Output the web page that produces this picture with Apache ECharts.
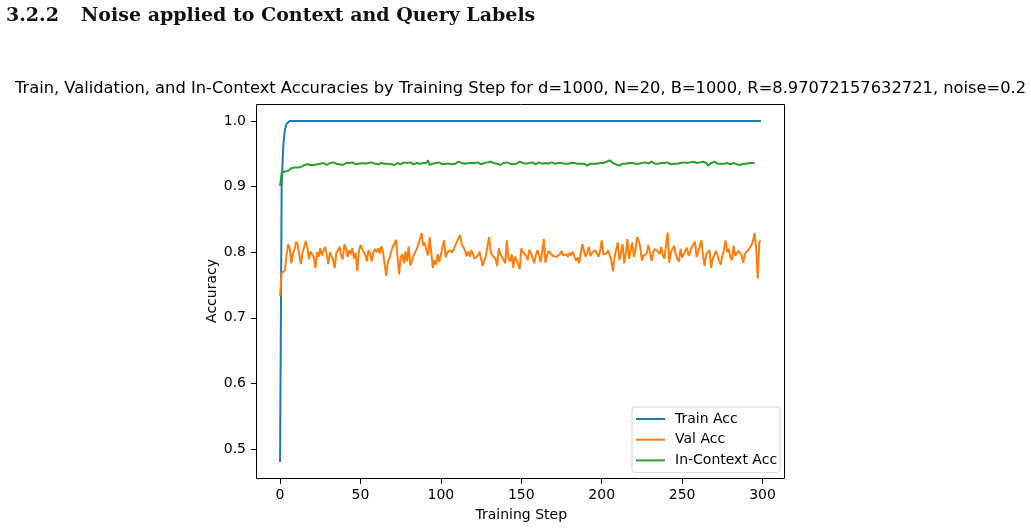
<!DOCTYPE html>
<html>
<head>
<meta charset="utf-8">
<script src="https://cdn.jsdelivr.net/npm/echarts@6/dist/echarts.min.js"></script>
<style>
  html, body { margin: 0; padding: 0; background: #fff; }
  #chart { width: 1031px; height: 529px; }
</style>
</head>
<body>
<div id="chart"></div>
<script>
// values, one per training step (0..299)
var trainAcc = [
  0.48, 0.90, 0.963, 0.986, 0.996, 0.999, 1, 1, 1, 1, 1, 1, 1, 1, 1, 1, 1, 1, 1, 1,
  1, 1, 1, 1, 1, 1, 1, 1, 1, 1, 1, 1, 1, 1, 1, 1, 1, 1, 1, 1,
  1, 1, 1, 1, 1, 1, 1, 1, 1, 1, 1, 1, 1, 1, 1, 1, 1, 1, 1, 1,
  1, 1, 1, 1, 1, 1, 1, 1, 1, 1, 1, 1, 1, 1, 1, 1, 1, 1, 1, 1,
  1, 1, 1, 1, 1, 1, 1, 1, 1, 1, 1, 1, 1, 1, 1, 1, 1, 1, 1, 1,
  1, 1, 1, 1, 1, 1, 1, 1, 1, 1, 1, 1, 1, 1, 1, 1, 1, 1, 1, 1,
  1, 1, 1, 1, 1, 1, 1, 1, 1, 1, 1, 1, 1, 1, 1, 1, 1, 1, 1, 1,
  1, 1, 1, 1, 1, 1, 1, 1, 1, 1, 1, 1, 1, 1, 1, 1, 1, 1, 1, 1,
  1, 1, 1, 1, 1, 1, 1, 1, 1, 1, 1, 1, 1, 1, 1, 1, 1, 1, 1, 1,
  1, 1, 1, 1, 1, 1, 1, 1, 1, 1, 1, 1, 1, 1, 1, 1, 1, 1, 1, 1,
  1, 1, 1, 1, 1, 1, 1, 1, 1, 1, 1, 1, 1, 1, 1, 1, 1, 1, 1, 1,
  1, 1, 1, 1, 1, 1, 1, 1, 1, 1, 1, 1, 1, 1, 1, 1, 1, 1, 1, 1,
  1, 1, 1, 1, 1, 1, 1, 1, 1, 1, 1, 1, 1, 1, 1, 1, 1, 1, 1, 1,
  1, 1, 1, 1, 1, 1, 1, 1, 1, 1, 1, 1, 1, 1, 1, 1, 1, 1, 1, 1,
  1, 1, 1, 1, 1, 1, 1, 1, 1, 1, 1, 1, 1, 1, 1, 1, 1, 1, 1, 1
];

var valAcc = [
  0.733, 0.768, 0.770, 0.772, 0.795, 0.812, 0.806, 0.783, 0.798, 0.804,
  0.816, 0.812, 0.795, 0.782, 0.800, 0.808, 0.817, 0.806, 0.789, 0.801,
  0.798, 0.792, 0.776, 0.800, 0.793, 0.806, 0.795, 0.802, 0.808, 0.797,
  0.782, 0.800, 0.803, 0.788, 0.776, 0.799, 0.803, 0.808, 0.795, 0.789,
  0.812, 0.805, 0.793, 0.803, 0.797, 0.806, 0.790, 0.799, 0.771, 0.800,
  0.811, 0.806, 0.800, 0.796, 0.786, 0.803, 0.798, 0.786, 0.800, 0.805,
  0.800, 0.806, 0.798, 0.809, 0.801, 0.803, 0.764, 0.785, 0.790, 0.800,
  0.808, 0.812, 0.819, 0.795, 0.766, 0.792, 0.797, 0.783, 0.801, 0.786,
  0.809, 0.780, 0.787, 0.795, 0.800, 0.805, 0.812, 0.815, 0.829, 0.810,
  0.815, 0.803, 0.795, 0.823, 0.800, 0.776, 0.788, 0.781, 0.797, 0.785,
  0.796, 0.808, 0.818, 0.792, 0.800, 0.797, 0.803, 0.799, 0.805, 0.808,
  0.816, 0.822, 0.826, 0.812, 0.815, 0.803, 0.794, 0.801, 0.793, 0.803,
  0.797, 0.790, 0.787, 0.795, 0.801, 0.790, 0.779, 0.788, 0.795, 0.810,
  0.823, 0.800, 0.795, 0.797, 0.790, 0.779, 0.806, 0.797, 0.800, 0.788,
  0.783, 0.818, 0.790, 0.786, 0.797, 0.776, 0.793, 0.791, 0.782, 0.774,
  0.806, 0.800, 0.800, 0.795, 0.788, 0.804, 0.798, 0.792, 0.783, 0.795,
  0.803, 0.797, 0.785, 0.800, 0.820, 0.784, 0.795, 0.802, 0.798, 0.795,
  0.794, 0.792, 0.793, 0.790, 0.797, 0.802, 0.795, 0.797, 0.797, 0.793,
  0.799, 0.795, 0.801, 0.798, 0.787, 0.792, 0.783, 0.800, 0.812, 0.802,
  0.793, 0.800, 0.808, 0.794, 0.799, 0.797, 0.803, 0.805, 0.793, 0.802,
  0.818, 0.797, 0.800, 0.798, 0.803, 0.806, 0.787, 0.771, 0.793, 0.804,
  0.815, 0.788, 0.800, 0.812, 0.783, 0.798, 0.820, 0.790, 0.802, 0.815,
  0.793, 0.804, 0.823, 0.818, 0.807, 0.787, 0.795, 0.793, 0.798, 0.811,
  0.800, 0.787, 0.800, 0.805, 0.806, 0.801, 0.797, 0.808, 0.795, 0.790,
  0.812, 0.830, 0.784, 0.800, 0.805, 0.810, 0.797, 0.790, 0.786, 0.805,
  0.792, 0.797, 0.800, 0.807, 0.795, 0.800, 0.808, 0.806, 0.816, 0.793,
  0.800, 0.803, 0.818, 0.795, 0.779, 0.797, 0.800, 0.803, 0.776, 0.790,
  0.795, 0.802, 0.795, 0.787, 0.781, 0.795, 0.803, 0.818, 0.800, 0.805,
  0.792, 0.788, 0.810, 0.795, 0.798, 0.802, 0.800, 0.795, 0.784, 0.797,
  0.800, 0.803, 0.806, 0.810, 0.816, 0.829, 0.808, 0.760, 0.816, 0.817
];

var inContextAcc = [
  0.901, 0.921, 0.922, 0.923, 0.925, 0.924, 0.927, 0.928, 0.927, 0.929,
  0.930, 0.929, 0.931, 0.930, 0.932, 0.933, 0.932, 0.934, 0.932, 0.933,
  0.934, 0.933, 0.935, 0.934, 0.933, 0.935, 0.934, 0.936, 0.935, 0.933,
  0.934, 0.936, 0.935, 0.937, 0.934, 0.935, 0.936, 0.934, 0.935, 0.933,
  0.935, 0.936, 0.934, 0.936, 0.935, 0.937, 0.935, 0.934, 0.936, 0.935,
  0.934, 0.936, 0.937, 0.935, 0.934, 0.936, 0.935, 0.937, 0.936, 0.935,
  0.936, 0.934, 0.935, 0.936, 0.934, 0.935, 0.937, 0.935, 0.936, 0.934,
  0.935, 0.933, 0.934, 0.936, 0.935, 0.934, 0.936, 0.937, 0.935, 0.936,
  0.935, 0.937, 0.936, 0.934, 0.935, 0.936, 0.934, 0.935, 0.937, 0.936,
  0.934, 0.936, 0.940, 0.933, 0.936, 0.935, 0.934, 0.936, 0.935, 0.937,
  0.935, 0.934, 0.936, 0.935, 0.938, 0.935, 0.936, 0.934, 0.937, 0.935,
  0.936, 0.938, 0.935, 0.936, 0.934, 0.935, 0.937, 0.936, 0.935, 0.936,
  0.934, 0.936, 0.935, 0.937, 0.936, 0.934, 0.935, 0.936, 0.934, 0.937,
  0.936, 0.938, 0.935, 0.936, 0.937, 0.935, 0.936, 0.933, 0.935, 0.936,
  0.935, 0.937, 0.936, 0.935, 0.936, 0.934, 0.936, 0.935, 0.936, 0.938,
  0.935, 0.936, 0.934, 0.935, 0.937, 0.936, 0.935, 0.937, 0.936, 0.934,
  0.935, 0.937, 0.936, 0.935, 0.937, 0.936, 0.938, 0.935, 0.936, 0.937,
  0.936, 0.935, 0.937, 0.936, 0.935, 0.936, 0.937, 0.935, 0.936, 0.935,
  0.937, 0.936, 0.935, 0.936, 0.937, 0.935, 0.936, 0.935, 0.934, 0.935,
  0.933, 0.932, 0.934, 0.935, 0.936, 0.935, 0.936, 0.935, 0.937, 0.936,
  0.935, 0.936, 0.937, 0.938, 0.939, 0.940, 0.938, 0.936, 0.935, 0.934,
  0.933, 0.932, 0.934, 0.935, 0.936, 0.935, 0.937, 0.936, 0.935, 0.936,
  0.937, 0.935, 0.936, 0.935, 0.934, 0.936, 0.935, 0.937, 0.936, 0.935,
  0.936, 0.938, 0.936, 0.935, 0.936, 0.935, 0.934, 0.936, 0.935, 0.936,
  0.935, 0.937, 0.936, 0.934, 0.936, 0.935, 0.936, 0.935, 0.934, 0.936,
  0.935, 0.937, 0.935, 0.936, 0.935, 0.937, 0.936, 0.938, 0.939, 0.936,
  0.935, 0.937, 0.936, 0.938, 0.935, 0.936, 0.932, 0.935, 0.936, 0.937,
  0.938, 0.936, 0.935, 0.936, 0.935, 0.936, 0.935, 0.934, 0.936, 0.935,
  0.934, 0.935, 0.936, 0.935, 0.934, 0.935, 0.933, 0.934, 0.935, 0.936,
  0.935, 0.934, 0.936, 0.937, 0.936, 0.935
];

var seriesNames = ['Train Acc', 'Val Acc', 'In-Context Acc'];
var colors = ['#1f77b4', '#ff7f0e', '#2ca02c'];

function pairs(arr) {
  return arr.map(function (v, i) { return [i, v]; });
}

var font = 'DejaVu Sans';
var chart = echarts.init(document.getElementById('chart'));

var option = {
  animation: false,
  backgroundColor: '#fff',
  textStyle: { fontFamily: font },
  graphic: [
    // section heading
    { type: 'text', left: 6, top: 7, style: { text: '3.2.2', font: 'bold 19px "DejaVu Serif"', fill: '#111' } },
    { type: 'text', left: 81, top: 7, style: { text: 'Noise applied to Context and Query Labels', font: 'bold 19px "DejaVu Serif"', fill: '#111' } },
    // plot title
    { type: 'text', x: 520.5, y: 89, style: {
        text: 'Train, Validation, and In-Context Accuracies by Training Step for d=1000, N=20, B=1000, R=8.97072157632721, noise=0.2',
        font: '16.3px "DejaVu Sans"', fill: '#000', align: 'center', verticalAlign: 'middle' } },
    // axes frame
    { type: 'rect', z: 10, silent: true, shape: { x: 256.5, y: 104.5, width: 528, height: 374 },
      style: { fill: 'none', stroke: '#000', lineWidth: 1 } }
  ],
  grid: { left: 280.05, top: 121.05, width: 482.5, height: 327.85 },
  legend: {
    data: seriesNames,
    orient: 'vertical',
    left: 632, top: 407,
    padding: [5, 3, 5, 4],
    icon: 'rect',
    itemWidth: 29, itemHeight: 2, itemGap: 6.7,
    backgroundColor: 'rgba(255,255,255,0.8)',
    borderColor: '#d5d5d5', borderWidth: 1, borderRadius: 3,
    textStyle: { fontFamily: font, fontSize: 14, lineHeight: 14, color: '#000', padding: [0, 0, 0, 5] }
  },
  xAxis: {
    type: 'value', min: 0, max: 300, interval: 50, offset: 30.1,
    name: 'Training Step', nameLocation: 'middle', nameGap: 29,
    nameTextStyle: { fontFamily: font, fontSize: 14, color: '#000' },
    axisLine: { show: false, onZero: false },
    axisTick: { show: true, length: 5, lineStyle: { color: '#000', width: 1 } },
    axisLabel: { color: '#000', fontSize: 14, fontFamily: font, margin: 9 },
    splitLine: { show: false }
  },
  yAxis: {
    type: 'value', min: 0.5, max: 1.0, interval: 0.1, offset: 24.05,
    name: 'Accuracy', nameLocation: 'middle', nameGap: 36,
    nameTextStyle: { fontFamily: font, fontSize: 14, color: '#000', padding: [0, 12, 0, 0] },
    axisLine: { show: false, onZero: false },
    axisTick: { show: true, length: 5, lineStyle: { color: '#000', width: 1 } },
    axisLabel: { color: '#000', fontSize: 14, fontFamily: font, margin: 10,
      formatter: function (v) { return v.toFixed(1); } },
    splitLine: { show: false }
  },
  series: [
    { name: seriesNames[0], type: 'line', data: pairs(trainAcc), clip: false },
    { name: seriesNames[1], type: 'line', data: pairs(valAcc), clip: false },
    { name: seriesNames[2], type: 'line', data: pairs(inContextAcc), clip: false }
  ].map(function (s, i) {
    s.symbol = 'none';
    s.color = colors[i];
    s.lineStyle = { width: 2, color: colors[i] };
    s.itemStyle = { color: colors[i] };
    return s;
  })
};

chart.setOption(option);
</script>
</body>
</html>
